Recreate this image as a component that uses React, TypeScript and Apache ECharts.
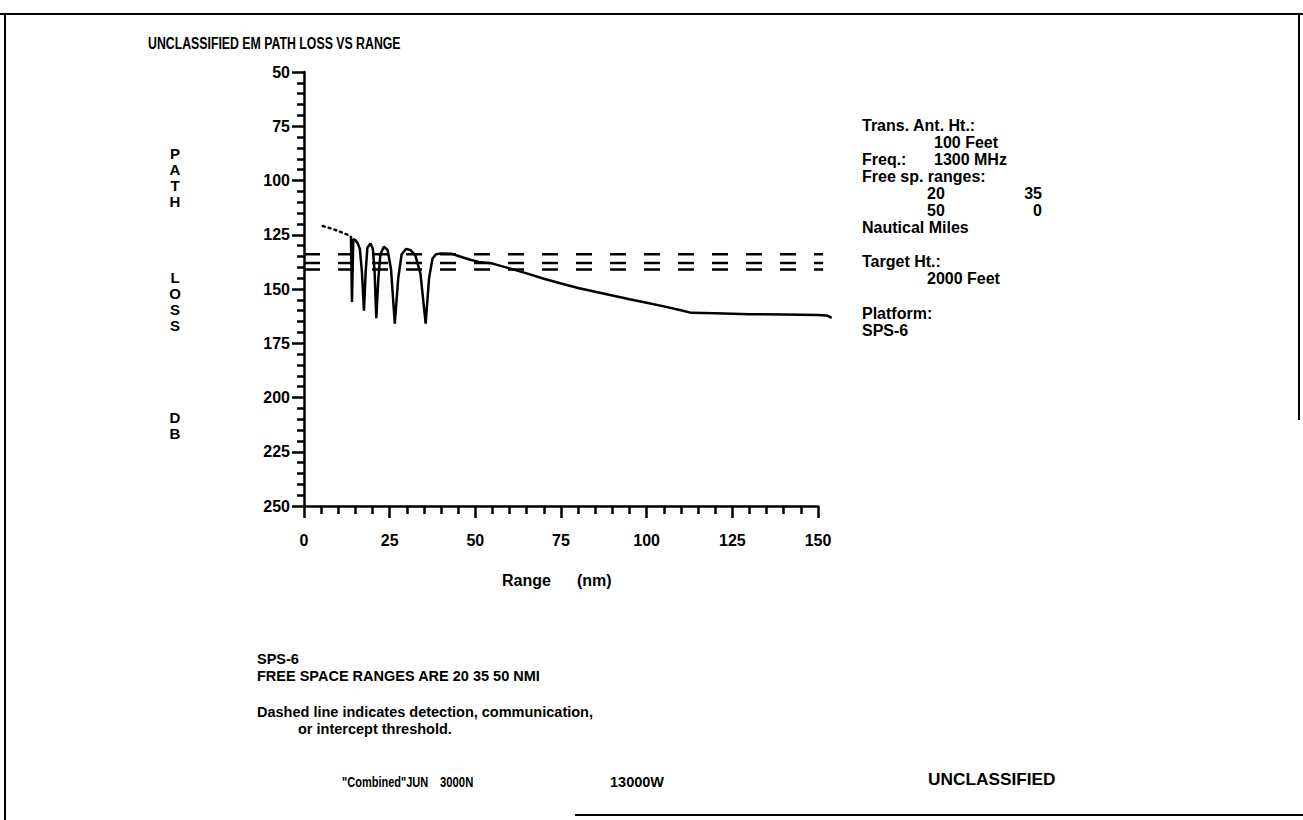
import React, { useEffect, useRef } from "react";
import * as echarts from "echarts";

const xTicks = [0, 25, 50, 75, 100, 125, 150];
const yTicks = [50, 75, 100, 125, 150, 175, 200, 225, 250];

// dotted start of the path-loss curve (range nm, loss dB)
const dottedCurve: [number, number][] = [
  [5.5, 121], [7, 121.7], [9, 122.7], [11, 123.9], [13, 125.2], [13.7, 126],
];

// solid path-loss curve (range nm, loss dB)
const pathLoss: [number, number][] = [
  [13.7, 126], [13.85, 140], [14.0, 156], [14.2, 140], [14.4, 127], [15, 127.5],
  [15.7, 129], [16.3, 131.5], [16.9, 142], [17.5, 160], [18.0, 142], [18.5, 131],
  [19.4, 129], [20.1, 131.5], [20.6, 142], [21.1, 163.5], [21.7, 145], [22.3, 134],
  [23.3, 130.5], [24.4, 132], [25.4, 141], [26.5, 166], [27.5, 145], [28.5, 134],
  [29.8, 131.5], [31, 132], [32.5, 134.5], [34, 143], [35.5, 166], [36.5, 145],
  [37.5, 136], [38.5, 134], [40, 133.6], [43, 133.7], [45.5, 135], [48.5, 136.5],
  [51, 137.5], [55, 138.3], [60, 140.5], [65, 142.8], [70, 145.3], [75, 147.5],
  [80, 149.5], [85, 151.3], [90, 153], [95, 154.7], [100, 156.3], [105, 158],
  [110, 159.8], [113, 161], [120, 161.2], [130, 161.6], [140, 161.8], [150, 162],
  [152.5, 162.2], [154, 163.3],
];

// threshold levels (dB) drawn as dashed lines
const thresholds = [134, 138, 141];
const thresholdRange = [0, 151.5];

const FONT = "'Liberation Sans', Arial, Helvetica, sans-serif";

// plot geometry (pixels)
const GRID_LEFT = 304;
const GRID_TOP = 72;
const GRID_W = 514; // 0..150 nm
const GRID_H = 434; // 50..250 dB
const X_MAX = 150;
const X_MAX_DATA = 155; // the data frame reaches a little past the axis end

export default function App() {
  const ref = useRef<HTMLDivElement>(null);

  useEffect(() => {
    if (!ref.current) return;
    const chart = echarts.init(ref.current, null, { renderer: "svg" });

    const txt = (x: number, y: number, text: string, extra: any = {}, el: any = {}) => ({
      type: "text",
      x,
      y,
      ...el,
      style: {
        text,
        fill: "#000",
        font: `bold 16px ${FONT}`,
        textVerticalAlign: "middle",
        ...extra,
      },
    });

    const note = `bold 14.5px ${FONT}`;
    const letters = { textAlign: "center", textVerticalAlign: "top", lineHeight: 16, font: `bold 15px ${FONT}` };

    const graphics: any[] = [
      // frame
      { type: "line", shape: { x1: 0, y1: 14, x2: 1303, y2: 14 }, style: { stroke: "#000", lineWidth: 2 } },
      { type: "line", shape: { x1: 5, y1: 14, x2: 5, y2: 820 }, style: { stroke: "#000", lineWidth: 2 } },
      { type: "line", shape: { x1: 1299, y1: 14, x2: 1299, y2: 420 }, style: { stroke: "#000", lineWidth: 2 } },
      { type: "line", shape: { x1: 575, y1: 815, x2: 1303, y2: 815 }, style: { stroke: "#000", lineWidth: 2 } },
      // title
      txt(148, 43, "UNCLASSIFIED EM PATH LOSS VS RANGE", {}, { scaleX: 0.77, originX: 0 }),
      // vertical y-axis name
      txt(175, 145, "P\nA\nT\nH", letters),
      txt(175, 269, "L\nO\nS\nS", letters),
      txt(175, 409, "D\nB", letters),
      // x-axis name
      txt(502, 580, "Range"),
      txt(577, 580, "(nm)"),
      // right panel
      txt(862, 125, "Trans. Ant. Ht.:"),
      txt(934, 142, "100 Feet"),
      txt(862, 159, "Freq.:"),
      txt(934, 159, "1300 MHz"),
      txt(862, 176, "Free sp. ranges:"),
      txt(927, 193, "20"),
      txt(1042, 193, "35", { textAlign: "right" }),
      txt(927, 210, "50"),
      txt(1042, 210, "0", { textAlign: "right" }),
      txt(862, 227, "Nautical Miles"),
      txt(862, 261, "Target Ht.:"),
      txt(927, 278, "2000 Feet"),
      txt(862, 313, "Platform:"),
      txt(862, 330, "SPS-6"),
      // bottom notes
      txt(257, 659, "SPS-6", { font: note }),
      txt(257, 676, "FREE SPACE RANGES ARE 20 35 50 NMI", { font: note }),
      txt(257, 712, "Dashed line indicates detection, communication,", { font: note }),
      txt(298, 729, "or intercept threshold.", { font: note }),
      txt(342, 782, "\"Combined\"JUN", { font: note }, { scaleX: 0.76, originX: 0 }),
      txt(440, 782, "3000N", { font: note }, { scaleX: 0.78, originX: 0 }),
      txt(610, 782, "13000W", { font: note }),
      txt(928, 780, "UNCLASSIFIED", {}, { scaleX: 1.08, originX: 0 }),
    ];

    const thresholdSeries = thresholds.map((t) => ({
      type: "line",
      xAxisIndex: 1,
      yAxisIndex: 1,
      data: [
        [thresholdRange[0], t],
        [thresholdRange[1], t],
      ],
      symbol: "none",
      silent: true,
      lineStyle: { color: "#000", width: 2.5, type: [16, 18] },
    }));

    const axisLineStyle = { color: "#000", width: 2.5 };

    chart.setOption({
      animation: false,
      backgroundColor: "#fff",
      grid: [
        { left: GRID_LEFT, top: GRID_TOP, width: GRID_W, height: GRID_H },
        {
          left: GRID_LEFT,
          top: GRID_TOP,
          width: (GRID_W * X_MAX_DATA) / X_MAX,
          height: GRID_H,
        },
      ],
      xAxis: [
        {
          type: "value",
          gridIndex: 0,
          min: 0,
          max: X_MAX,
          interval: 25,
          axisLine: { show: true, lineStyle: axisLineStyle },
          axisTick: { show: true, length: 12, lineStyle: axisLineStyle },
          minorTick: { show: true, splitNumber: 5, length: 8, lineStyle: axisLineStyle },
          splitLine: { show: false },
          axisLabel: {
            color: "#000",
            fontFamily: FONT,
            fontSize: 16,
            fontWeight: "bold",
            margin: 26,
            customValues: xTicks,
          },
        },
        {
          type: "value",
          gridIndex: 1,
          min: 0,
          max: X_MAX_DATA,
          show: false,
        },
      ],
      yAxis: [
        {
          type: "value",
          gridIndex: 0,
          inverse: true,
          min: 50,
          max: 250,
          interval: 25,
          axisLine: { show: true, onZero: false, lineStyle: axisLineStyle },
          axisTick: { show: true, length: 12, lineStyle: axisLineStyle },
          minorTick: { show: true, splitNumber: 5, length: 7, lineStyle: axisLineStyle },
          splitLine: { show: false },
          axisLabel: {
            color: "#000",
            fontFamily: FONT,
            fontSize: 16,
            fontWeight: "bold",
            margin: 14,
            customValues: yTicks,
          },
        },
        {
          type: "value",
          gridIndex: 1,
          inverse: true,
          min: 50,
          max: 250,
          show: false,
        },
      ],
      graphic: graphics,
      series: [
        ...thresholdSeries,
        {
          type: "line",
          xAxisIndex: 1,
          yAxisIndex: 1,
          data: dottedCurve,
          symbol: "none",
          lineStyle: { color: "#000", width: 2.5, type: [2, 4], cap: "round" },
        },
        {
          type: "line",
          xAxisIndex: 1,
          yAxisIndex: 1,
          data: pathLoss,
          symbol: "none",
          lineStyle: { color: "#000", width: 2.5 },
        },
      ],
    });

    return () => chart.dispose();
  }, []);

  return (
    <div
      ref={ref}
      style={{ position: "fixed", left: 0, top: 0, width: 1303, height: 820, background: "#fff" }}
    />
  );
}
